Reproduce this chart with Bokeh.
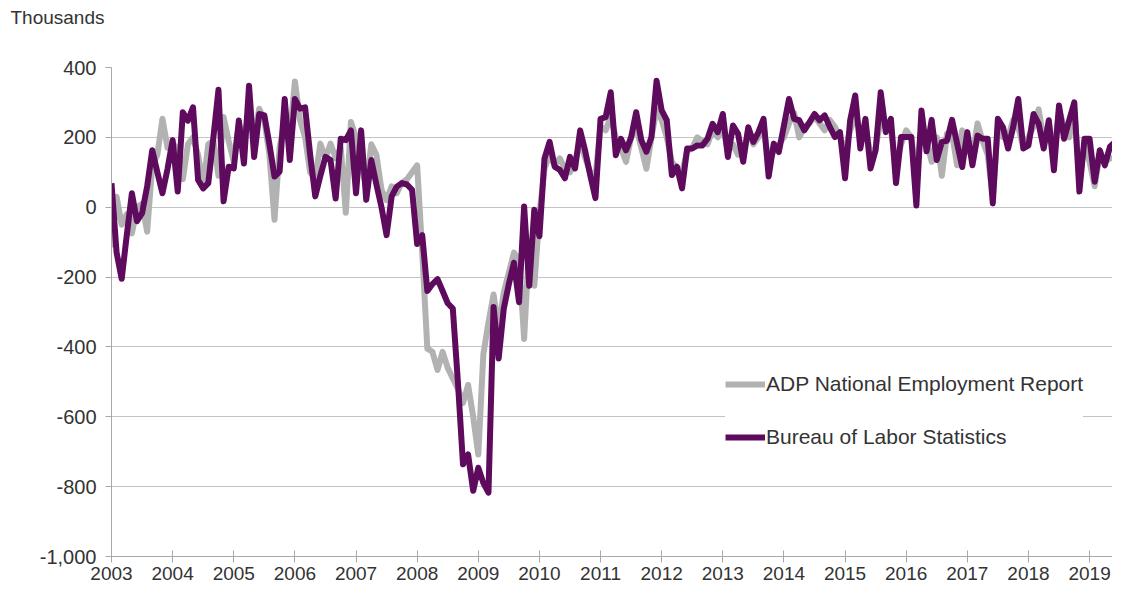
from bokeh.plotting import figure
from bokeh.models import Range1d, FixedTicker, Legend, LegendItem, NumeralTickFormatter, Title
from bokeh.embed import file_html
from bokeh.resources import INLINE

# Monthly change in employment, thousands, Jan 2003 onward
years = ["2003", "2004", "2005", "2006", "2007", "2008", "2009", "2010", "2011",
         "2012", "2013", "2014", "2015", "2016", "2017", "2018", "2019"]

bls = [69, -130, -205, -80, 40, -40, -17, 60, 163, 100, 40, 110,
       192, 45, 272, 248, 286, 78, 54, 69, 200, 336, 17, 116,
       111, 248, 125, 348, 144, 267, 263, 180, 88, 102, 310, 135,
       310, 282, 286, 150, 31, 90, 144, 135, 25, 196, 192, 220,
       40, 220, 21, 135, 65, 0, -80, 31, 59, 69, 65, 50,
       -105, -80, -240, -220, -206, -240, -275, -290, -500, -736, -708, -812,
       -746, -790, -817, -286, -433, -291, -220, -159, -272, 2, -225, -7,
       -83, 140, 187, 116, 107, 83, 144, 111, 220, 160, 90, 26,
       253, 258, 329, 149, 196, 163, 200, 272, 192, 159, 201, 362,
       277, 249, 92, 116, 54, 168, 168, 177, 177, 196, 239, 215,
       267, 144, 234, 210, 130, 229, 187, 215, 253, 88, 182, 158,
       234, 310, 253, 249, 220, 243, 267, 249, 263, 230, 201, 215,
       83, 249, 320, 168, 253, 111, 163, 329, 215, 253, 69, 201,
       201, 201, 5, 277, 160, 250, 135, 187, 190, 250, 182, 115,
       215, 120, 205, 196, 196, 11, 253, 229, 168, 229, 310, 168,
       177, 267, 239, 168, 249, 106, 291, 196, 249, 300, 45, 196,
       196, 73, 163, 120, 173, 187, 163, 258]

adp = [-115, 30, -50, -20, -75, 0, 10, -70, 120, 150, 253, 170,
       180, 170, 80, 180, 200, 150, 60, 180, 190, 90, 258, 190,
       130, 240, 190, 280, 200, 282, 250, 150, -36, 170, 250, 200,
       360, 250, 200, 100, 80, 182, 140, 182, 140, 170, -16, 244,
       200, 120, 60, 180, 150, 50, 20, 60, 40, 70, 80, 100,
       120, -130, -405, -414, -466, -414, -460, -490, -520, -560, -509, -600,
       -708, -420, -330, -250, -350, -244, -187, -130, -150, -377, -100, -225,
       -20, 110, 150, 120, 140, 110, 100, 130, 190, 140, 100, 90,
       230, 220, 260, 200, 170, 130, 200, 230, 170, 110, 200, 280,
       250, 200, 130, 110, 100, 160, 170, 200, 190, 180, 220, 200,
       230, 160, 180, 150, 150, 220, 180, 200, 230, 130, 160, 180,
       200, 240, 270, 200, 230, 240, 260, 240, 220, 250, 230, 200,
       160, 220, 260, 220, 230, 150, 170, 250, 230, 220, 120, 180,
       220, 200, 90, 230, 190, 130, 200, 90, 210, 210, 120, 220,
       160, 150, 240, 190, 150, 30, 230, 200, 200, 250, 230, 170,
       200, 230, 280, 190, 240, 150, 280, 230, 200, 280, 80, 180,
       130, 60, 150, 130, 140, 140, 150, 130]

months = list(range(len(bls)))

FONT = "Liberation Sans"
TXT = "#333333"

p = figure(width=1112, height=588, output_backend="svg", toolbar_location=None,
           x_range=Range1d(0, 196.5), y_range=Range1d(-1000, 400),
           min_border_left=111, min_border_right=0, min_border_top=67,
           min_border_bottom=32)
p.outline_line_color = None
p.background_fill_color = "white"
p.border_fill_color = "white"

# spacer next to the plotting area, then the unit label above it
p.add_layout(Title(text=" ", standoff=15, text_font=FONT, text_font_size="19px"), "above")
p.add_layout(Title(text="Thousands", align="left", offset=-101, standoff=0,
                   vertical_align="top", text_font=FONT, text_font_size="19px",
                   text_font_style="normal", text_color=TXT), "above")

r_adp = p.line(months, adp, line_color="#B2B2B2", line_width=6, line_join="round")
r_bls = p.line(months, bls, line_color="#5E0B5E", line_width=6, line_join="round")

# axes
p.xaxis.ticker = FixedTicker(ticks=[12 * k for k in range(len(years))])
p.xaxis.major_label_overrides = {12 * k: y for k, y in enumerate(years)}
p.xaxis.minor_tick_line_color = None
p.xaxis.major_tick_in = 6
p.xaxis.major_tick_out = 6
p.xaxis.major_label_standoff = 4
p.xaxis.major_label_text_font_size = "19px"
p.yaxis.ticker = FixedTicker(ticks=[-1000, -800, -600, -400, -200, 0, 200, 400])
p.yaxis.formatter = NumeralTickFormatter(format="0,0")
p.yaxis.minor_tick_line_color = None
p.yaxis.major_tick_in = 0
p.yaxis.major_tick_out = 6
p.yaxis.major_label_standoff = 9
p.yaxis.major_label_text_font_size = "20px"
for ax in (p.xaxis, p.yaxis):
    ax.axis_line_color = "#A8A8A8"
    ax.major_tick_line_color = "#A8A8A8"
    ax.major_label_text_font = FONT
    ax.major_label_text_color = TXT

p.xgrid.grid_line_color = None
p.ygrid.ticker = FixedTicker(ticks=[-800, -600, -400, -200, 0, 200, 400])
p.ygrid.grid_line_color = "#C4C4C4"
p.ygrid.grid_line_width = 1

legend = Legend(items=[LegendItem(label="ADP National Employment Report", renderers=[r_adp]),
                       LegendItem(label="Bureau of Labor Statistics", renderers=[r_bls])],
                location=(614, 107))
legend.glyph_width = 40
legend.glyph_height = 20
legend.label_height = 20
legend.label_standoff = 1
legend.spacing = 29
legend.padding = 10
legend.margin = 0
legend.border_line_color = None
legend.background_fill_color = "white"
legend.background_fill_alpha = 1.0
legend.label_text_font = FONT
legend.label_text_font_size = "21px"
legend.label_text_color = TXT
p.add_layout(legend, "center")

open("out.html", "w").write(file_html(p, INLINE))
